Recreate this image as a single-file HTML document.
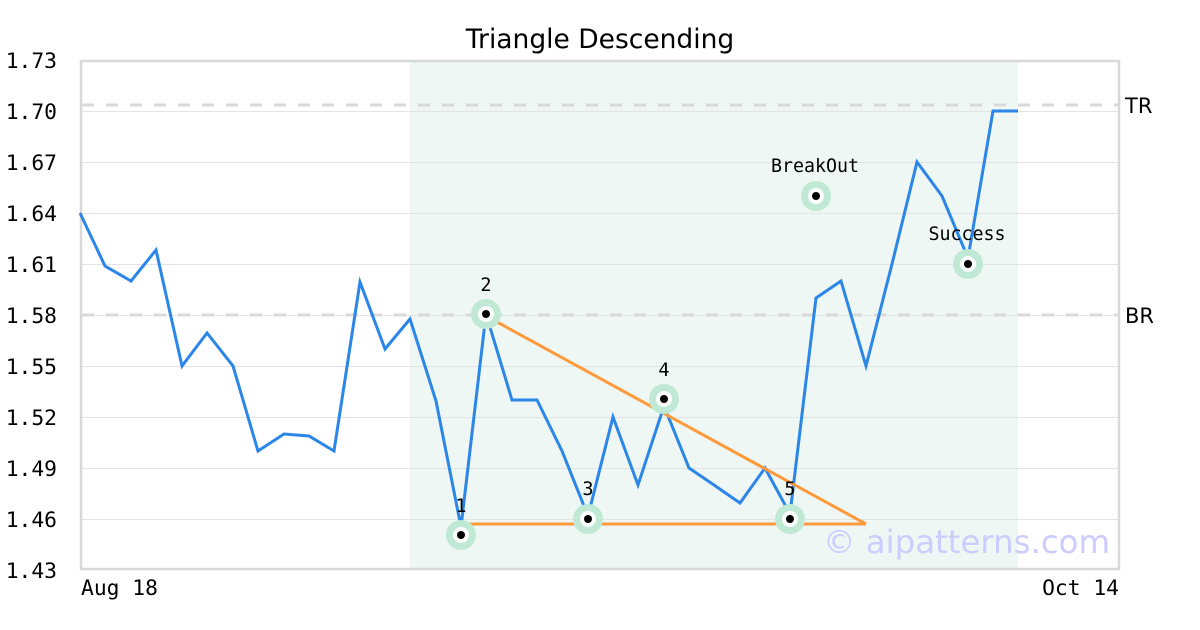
<!DOCTYPE html>
<html><head><meta charset="utf-8"><style>
html,body{margin:0;padding:0;background:#fff;}
svg{display:block;}
.m{font-family:"DejaVu Sans Mono","Liberation Mono",monospace;}
.s{font-family:"DejaVu Sans","Liberation Sans",sans-serif;}
</style></head><body>
<svg width="1200" height="630" viewBox="0 0 1200 630" xmlns="http://www.w3.org/2000/svg">
<rect x="0" y="0" width="1200" height="630" fill="#fff"/>
<rect x="410" y="60" width="608" height="510" fill="#eef7f3"/>
<g stroke="#e3e3e3" stroke-width="1">
<line x1="81" x2="1119" y1="519.5" y2="519.5"/>
<line x1="81" x2="1119" y1="468.5" y2="468.5"/>
<line x1="81" x2="1119" y1="417.5" y2="417.5"/>
<line x1="81" x2="1119" y1="366.5" y2="366.5"/>
<line x1="81" x2="1119" y1="315.5" y2="315.5"/>
<line x1="81" x2="1119" y1="264.5" y2="264.5"/>
<line x1="81" x2="1119" y1="213.5" y2="213.5"/>
<line x1="81" x2="1119" y1="162.5" y2="162.5"/>
<line x1="81" x2="1119" y1="111.5" y2="111.5"/>
</g>
<g stroke="#d9d9d9" stroke-width="3" stroke-dasharray="12,12">
<line x1="82" x2="1120" y1="105" y2="105"/>
<line x1="82" x2="1120" y1="315" y2="315"/>
</g>
<rect x="81" y="61" width="1038" height="508" fill="none" stroke="#d8d8d8" stroke-width="2.5"/>
<g fill="#000" font-size="21.3" class="m" text-anchor="end">
<text x="57" y="68">1.73</text>
<text x="57" y="119">1.70</text>
<text x="57" y="170">1.67</text>
<text x="57" y="221">1.64</text>
<text x="57" y="272">1.61</text>
<text x="57" y="323">1.58</text>
<text x="57" y="374">1.55</text>
<text x="57" y="425">1.52</text>
<text x="57" y="476">1.49</text>
<text x="57" y="527">1.46</text>
<text x="57" y="578">1.43</text>
</g>
<text x="81" y="595" font-size="21.3" class="m">Aug 18</text>
<text x="1119" y="595" font-size="21.3" class="m" text-anchor="end">Oct 14</text>
<text x="600" y="48" font-size="26.5" class="s" text-anchor="middle">Triangle Descending</text>
<text x="1125" y="113" font-size="21" class="s">TR</text>
<text x="1125" y="323" font-size="21" class="s">BR</text>
<text x="1110" y="553" font-size="32.4" class="s" text-anchor="end" fill="#ccccff">© aipatterns.com</text>
<polyline fill="none" stroke="#2b86e8" stroke-width="3" stroke-linejoin="miter" points="80,213 105,266 131,281 156,250 182,366 207,333 233,366 258,451 284,434 309,436 334,451 360,282 385,349 410,319 436,401 461,527 486,314 512,400 537,400 562,451 588,516 613,417 638,485 664,406 689,468 714,485 740,503 765,468 790,514 816,298 841,281 866,366 892,264 917,162 942,196 968,258 993,111 1018,111"/>
<g stroke="#ff9a3c" stroke-width="3" fill="none">
<line x1="486" y1="316" x2="866" y2="524"/>
<line x1="461" y1="524" x2="866" y2="524"/>
</g>
<g>
<circle cx="461" cy="535" r="15" fill="#bfe9d5"/><circle cx="461" cy="535" r="8" fill="#fff"/><circle cx="461" cy="535" r="4" fill="#000"/>
<circle cx="486" cy="314" r="15" fill="#bfe9d5"/><circle cx="486" cy="314" r="8" fill="#fff"/><circle cx="486" cy="314" r="4" fill="#000"/>
<circle cx="588" cy="519" r="15" fill="#bfe9d5"/><circle cx="588" cy="519" r="8" fill="#fff"/><circle cx="588" cy="519" r="4" fill="#000"/>
<circle cx="664" cy="399" r="15" fill="#bfe9d5"/><circle cx="664" cy="399" r="8" fill="#fff"/><circle cx="664" cy="399" r="4" fill="#000"/>
<circle cx="790" cy="519" r="15" fill="#bfe9d5"/><circle cx="790" cy="519" r="8" fill="#fff"/><circle cx="790" cy="519" r="4" fill="#000"/>
<circle cx="816" cy="196" r="15" fill="#bfe9d5"/><circle cx="816" cy="196" r="8" fill="#fff"/><circle cx="816" cy="196" r="4" fill="#000"/>
<circle cx="968" cy="264" r="15" fill="#bfe9d5"/><circle cx="968" cy="264" r="8" fill="#fff"/><circle cx="968" cy="264" r="4" fill="#000"/>
</g>
<g font-size="18.5" class="m" text-anchor="middle" fill="#000">
<text x="461" y="512">1</text>
<text x="486" y="291">2</text>
<text x="588" y="495">3</text>
<text x="664" y="376">4</text>
<text x="790" y="495">5</text>
<text x="815" y="172" font-size="18.3">BreakOut</text>
<text x="967" y="240" font-size="18.3">Success</text>
</g>
</svg>
</body></html>
